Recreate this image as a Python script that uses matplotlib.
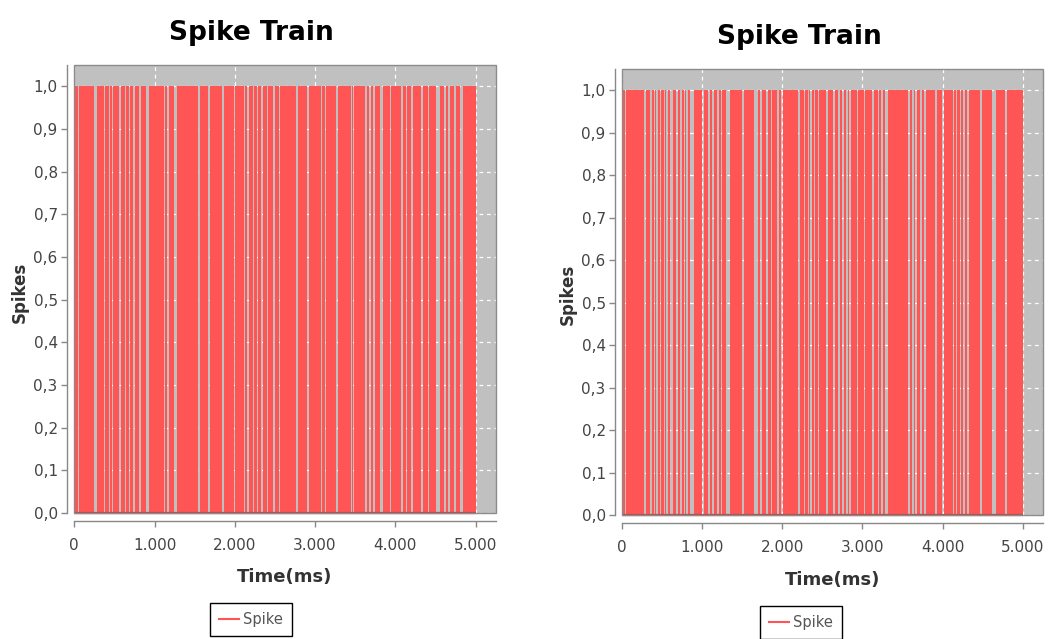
import numpy as np
import matplotlib
matplotlib.use("Agg")
import matplotlib.pyplot as plt
from matplotlib.lines import Line2D
from matplotlib.patches import Rectangle
from matplotlib.ticker import FixedLocator, FixedFormatter

# ---- data -----------------------------------------------------------------
T_START, T_END = 0, 5000           # recording window, ms

# Silent stretches (ms) of each spike train; everything else is firing.
left_silent_ms = [
    (50, 62), (245, 280), (374, 387), (436, 449), (470, 486), (561, 578),
    (632, 645), (678, 694), (736, 753), (807, 828), (894, 928), (1115, 1131),
    (1160, 1177), (1247, 1277), (1546, 1563), (1671, 1696), (1845, 1862),
    (1995, 2008), (2112, 2128), (2157, 2174), (2224, 2241), (2274, 2290),
    (2332, 2349), (2399, 2415), (2481, 2498), (2549, 2565), (2760, 2785),
    (2905, 2927), (3075, 3090), (3120, 3138), (3259, 3284), (3446, 3460),
    (3472, 3487), (3622, 3643), (3677, 3693), (3727, 3746), (3812, 3845),
    (3928, 3949), (4070, 4095), (4136, 4152), (4202, 4219), (4323, 4344),
    (4402, 4423), (4510, 4560), (4601, 4631), (4663, 4685), (4726, 4756),
    (4810, 4843),
]

right_silent_ms = [
    (34, 50), (275, 292), (350, 367), (392, 404), (425, 442), (467, 483),
    (517, 533), (550, 567), (592, 637), (670, 691), (724, 742), (767, 783),
    (799, 816), (849, 891), (999, 1024), (1074, 1099), (1124, 1141),
    (1182, 1207), (1232, 1249), (1298, 1345), (1491, 1516), (1648, 1690),
    (1723, 1740), (1798, 1823), (1856, 1873), (1931, 1956), (1981, 2010),
    (2197, 2215), (2264, 2281), (2314, 2331), (2347, 2364), (2389, 2406),
    (2439, 2456), (2539, 2572), (2634, 2655), (2689, 2722), (2739, 2764),
    (2789, 2814), (2830, 2855), (2930, 2946), (3014, 3030), (3121, 3138),
    (3188, 3205), (3230, 3255), (3280, 3313), (3563, 3596), (3621, 3638),
    (3654, 3679), (3713, 3738), (3771, 3796), (3904, 3929), (3995, 4020),
    (4129, 4145), (4170, 4187), (4212, 4228), (4254, 4279), (4304, 4329),
    (4469, 4494), (4612, 4662), (4779, 4800),
]

x_ticks = [0, 1000, 2000, 3000, 4000, 5000]
x_tick_labels = ["0", "1.000", "2.000", "3.000", "4.000", "5.000"]
y_ticks = [round(0.1 * i, 1) for i in range(11)]
y_tick_labels = [f"{v:.1f}".replace(".", ",") for v in y_ticks]

title_text = "Spike Train"
x_label = "Time(ms)"
y_label = "Spikes"
series_name = "Spike"

# ---- style ----------------------------------------------------------------
RED = "#ff5555"
BASE_RED = "#b84848"
PLOT_BG = "#c0c0c0"
AXIS_GREY = "#888888"
FONT = ["DejaVu Sans"]

W, H = 1048, 639
fig = plt.figure(figsize=(W / 100, H / 100), dpi=100)
fig.patch.set_facecolor("white")


def px_box(x0, x1, y_top, y_bot):
    return [x0 / W, 1 - y_bot / H, (x1 - x0) / W, (y_bot - y_top) / H]


def spike_profile(silent):
    t = [T_START]
    y = [1]
    for a, b in silent:
        t += [a, b]
        y += [0, 1]
    t.append(T_END)
    y.append(1)
    return np.array(t, dtype=float), np.array(y, dtype=float)


def draw_panel(rect, silent, title_xy, ylabel_xy, xlabel_xy, legend_xy):
    ax = fig.add_axes(rect)
    ax.set_facecolor(PLOT_BG)
    ax.set_xlim(0, 5255)
    ax.set_ylim(0, 1.049)

    ax.xaxis.set_major_locator(FixedLocator(x_ticks))
    ax.xaxis.set_major_formatter(FixedFormatter(x_tick_labels))
    ax.yaxis.set_major_locator(FixedLocator(y_ticks))
    ax.yaxis.set_major_formatter(FixedFormatter(y_tick_labels))

    ax.grid(True, color="white", linestyle=(0, (3, 3)), linewidth=0.9)
    ax.set_axisbelow(True)

    t, y = spike_profile(silent)
    ax.fill_between(t, 0, y, step="post", color=RED, linewidth=0, zorder=2)
    ax.plot([T_START, T_END], [0, 0], color=BASE_RED, linewidth=1.6,
            zorder=3, clip_on=False, solid_capstyle="butt")

    for side in ("top", "right"):
        ax.spines[side].set_visible(False)
    ax.spines["left"].set_position(("outward", 5))
    ax.spines["bottom"].set_position(("outward", 6))
    for side in ("left", "bottom"):
        ax.spines[side].set_color(AXIS_GREY)
        ax.spines[side].set_linewidth(1.0)
    ax.add_patch(Rectangle((0, 0), 1, 1, transform=ax.transAxes, fill=False,
                           edgecolor="#8c8c8c", linewidth=1.0, zorder=5,
                           clip_on=False))

    ax.tick_params(axis="both", direction="out", length=4, width=1,
                   color=AXIS_GREY, labelcolor="#444444")
    ax.tick_params(axis="x", pad=8)
    ax.tick_params(axis="y", pad=3)
    for lab in ax.get_xticklabels() + ax.get_yticklabels():
        lab.set_fontfamily(FONT)
        lab.set_fontsize(11)

    fig.text(title_xy[0] / W, 1 - title_xy[1] / H, title_text,
             family=FONT, fontsize=19, fontweight="bold", color="black",
             ha="center", va="baseline")
    fig.text(ylabel_xy[0] / W, 1 - ylabel_xy[1] / H, y_label,
             family=FONT, fontsize=12, fontweight="bold", color="#333333",
             ha="center", va="center", rotation=90)
    fig.text(xlabel_xy[0] / W, 1 - xlabel_xy[1] / H, x_label,
             family=FONT, fontsize=13, fontweight="bold", color="#333333",
             ha="center", va="baseline")

    handle = Line2D([], [], color=RED, linewidth=1.5, label=series_name)
    leg = ax.legend(handles=[handle], loc="upper center",
                    bbox_to_anchor=(legend_xy[0] / W, 1 - legend_xy[1] / H),
                    bbox_transform=fig.transFigure, frameon=True,
                    fancybox=False, edgecolor="black", framealpha=1,
                    borderpad=0.6, handlelength=1.4, handletextpad=0.3,
                    borderaxespad=0,
                    prop={"family": FONT, "size": 10.5})
    leg.get_frame().set_linewidth(1.0)
    for txt in leg.get_texts():
        txt.set_color("#555555")
    return ax


draw_panel(px_box(74.3, 496, 65.3, 513), left_silent_ms,
           title_xy=(251, 40), ylabel_xy=(20, 292),
           xlabel_xy=(285, 582), legend_xy=(251, 603))
draw_panel(px_box(622.3, 1043, 69.3, 515), right_silent_ms,
           title_xy=(799, 44), ylabel_xy=(568, 294),
           xlabel_xy=(833, 585), legend_xy=(801, 606))

fig.savefig("out.png", dpi=100, facecolor="white")
